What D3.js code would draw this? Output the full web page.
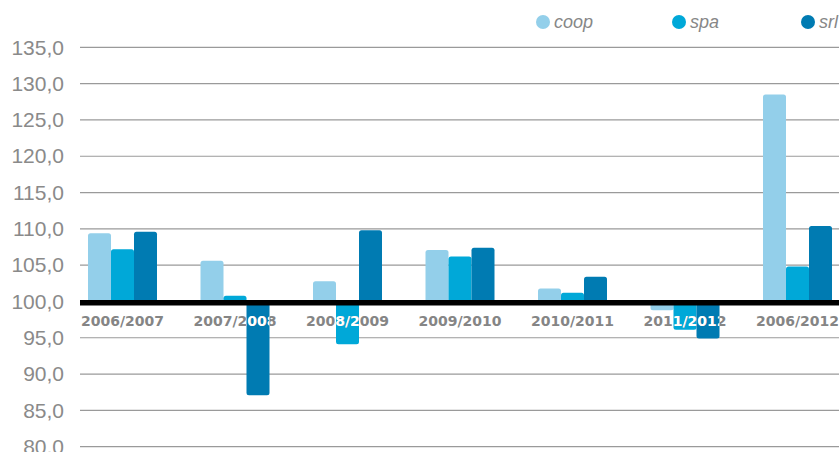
<!DOCTYPE html>
<html>
<head>
<meta charset="utf-8">
<script src="https://cdn.jsdelivr.net/npm/d3@7"></script>
<style>
  html, body { margin: 0; padding: 0; background: #fff; }
  svg { display: block; }
</style>
</head>
<body>
<div id="chart"></div>
<script>
// Index numbers by company type, base 100
const categories = ["2006/2007", "2007/2008", "2008/2009", "2009/2010", "2010/2011", "2011/2012", "2006/2012"];
const seriesNames = ["coop", "spa", "srl"];
const coop = [109.4, 105.6, 102.8, 107.1, 101.8, 98.8, 128.5];
const spa  = [107.2, 100.8, 94.1, 106.2, 101.2, 96.1, 104.8];
const srl  = [109.6, 87.1, 109.8, 107.4, 103.4, 94.9, 110.4];
const colors = ["#93cfea", "#00a8d8", "#007bb2"];
const yTicks = [80, 85, 90, 95, 100, 105, 110, 115, 120, 125, 130, 135];
const baseValue = 100;

const W = 839, H = 452;
const svg = d3.select("#chart").append("svg").attr("width", W).attr("height", H);

const y = d3.scaleLinear().domain([80, 135]).range([446.7, 47.3]);
const x0 = d3.scaleBand().domain(categories).range([66.25, 853.75]).paddingInner(0).paddingOuter(0);
const x1 = d3.scaleBand().domain(seriesNames).range([0, 69]);
const groupOffset = (x0.bandwidth() - 69) / 2;

const values = { coop, spa, srl };
const bars = [];
categories.forEach((c, i) => {
  seriesNames.forEach((s, j) => {
    bars.push({ cat: c, series: s, value: values[s][i], color: colors[j] });
  });
});

// Gridlines and tick labels
const yAxis = d3.axisLeft(y).tickValues(yTicks).tickSize(0)
  .tickFormat(d => d3.format(".1f")(d).replace(".", ","));
const gAxis = svg.append("g").attr("transform", "translate(80,0)").call(yAxis);
gAxis.select(".domain").remove();
gAxis.selectAll("text")
  .attr("x", -16)
  .attr("fill", "#8a8a8a")
  .style("font-family", "'Liberation Sans', Arial, sans-serif")
  .style("font-size", "21px");

svg.append("g").selectAll("line").data(yTicks.filter(t => t !== baseValue)).join("line")
  .attr("x1", 80).attr("x2", W)
  .attr("y1", d => y(d)).attr("y2", d => y(d))
  .attr("stroke", "#9a9a9a").attr("stroke-width", 1.2);

// Bars with slightly rounded ends
function barPath(d) {
  const xs = x0(d.cat) + groupOffset + x1(d.series);
  const w = x1.bandwidth();
  const r = 2.5;
  if (d.value >= baseValue) {
    const top = y(d.value), bot = y(baseValue) + 1;
    return `M${xs},${bot} V${top + r} Q${xs},${top} ${xs + r},${top} H${xs + w - r} Q${xs + w},${top} ${xs + w},${top + r} V${bot} Z`;
  } else {
    const top = y(baseValue) + 1, bot = y(d.value);
    return `M${xs},${top} V${bot - r} Q${xs},${bot} ${xs + r},${bot} H${xs + w - r} Q${xs + w},${bot} ${xs + w},${bot - r} V${top} Z`;
  }
}

const clip = svg.append("defs").append("clipPath").attr("id", "barClip");
clip.selectAll("path").data(bars).join("path").attr("d", barPath);

svg.append("g").selectAll("path").data(bars).join("path")
  .attr("d", barPath)
  .attr("fill", d => d.color);

// Category axis line at 100
svg.append("line")
  .attr("x1", 80).attr("x2", W)
  .attr("y1", y(baseValue) + 1.2).attr("y2", y(baseValue) + 1.2)
  .attr("stroke", "#000").attr("stroke-width", 5.5);

// Category labels, white where they cross bars
const labelY = y(baseValue) + 25;
function drawLabels(g, fill) {
  g.selectAll("text").data(categories).join("text")
    .attr("x", d => x0(d) + x0.bandwidth() / 2)
    .attr("y", labelY)
    .attr("text-anchor", "middle")
    .attr("fill", fill)
    .style("font-family", "'DejaVu Sans', Verdana, sans-serif")
    .style("font-weight", "bold")
    .style("font-size", "14px")
    .text(d => d);
}
drawLabels(svg.append("g"), "#858585");
drawLabels(svg.append("g").attr("clip-path", "url(#barClip)"), "#ffffff");

// Legend
const legendX = [543, 679, 808];
const legend = svg.append("g").selectAll("g").data(seriesNames).join("g")
  .attr("transform", (d, i) => `translate(${legendX[i]},22)`);
legend.append("circle").attr("r", 7).attr("fill", (d, i) => colors[i]);
legend.append("text")
  .attr("x", 11).attr("y", 6)
  .attr("fill", "#878787")
  .style("font-family", "'Liberation Sans', Arial, sans-serif")
  .style("font-style", "italic")
  .style("font-size", "18px")
  .text(d => d);
</script>
</body>
</html>
